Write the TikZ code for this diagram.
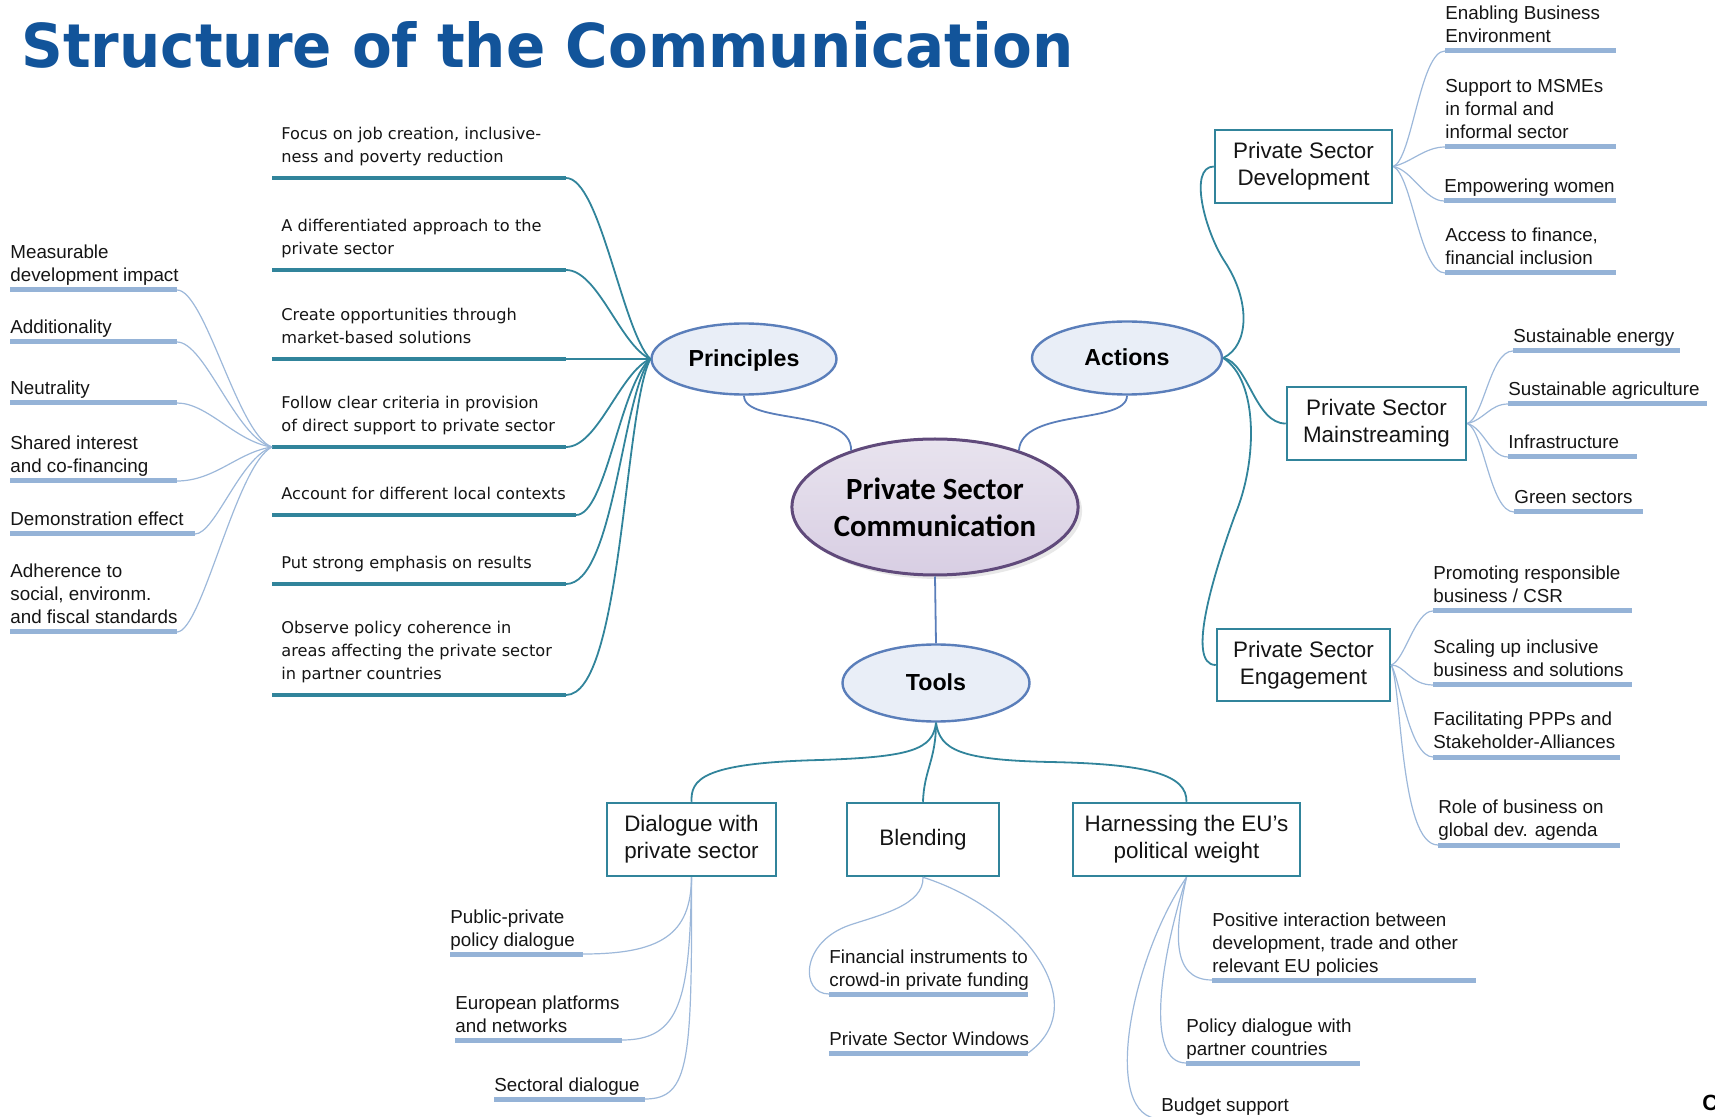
\documentclass[tikz,border=0pt]{standalone}
\usepackage{fontspec}
\setmainfont{Liberation Sans}
\newfontfamily\verd{DejaVu Sans}
\newfontfamily\calib{Carlito}
\newfontfamily\titlefont{DejaVu Sans}
\usetikzlibrary{shapes.geometric,shadows}
\definecolor{tealc}{HTML}{31849B}
\definecolor{lbar}{HTML}{95B3D7}
\definecolor{lline}{HTML}{9DB8DA}
\definecolor{ellf}{HTML}{E9EEF7}
\definecolor{ellb}{HTML}{5A7EBA}
\definecolor{centb}{HTML}{604A7B}
\definecolor{centt}{HTML}{E8E3EE}
\definecolor{centbot}{HTML}{D8CEE3}
\definecolor{titleblue}{HTML}{12549A}
\definecolor{txt}{HTML}{151515}
\begin{document}
\begin{tikzpicture}[x=0.5pt,y=-0.5pt,
  lvbar/.style={draw=lbar, line width=2.5pt},
  tbar/.style={draw=tealc, line width=1.75pt},
  thin/.style={draw=lline, line width=0.6pt},
  tcon/.style={draw=tealc, line width=0.9pt},
  bcon/.style={draw=ellb, line width=0.9pt},
  leaf/.style={anchor=south west, inner sep=0pt, align=left, text=txt, yshift=-1pt, font=\fontsize{9.4}{11.5}\selectfont},
  prtext/.style={anchor=south west, inner sep=0pt, align=left, text=txt, yshift=-1pt, font=\verd\fontsize{8.1}{11.5}\selectfont},
  box/.style={draw=tealc, line width=1.25pt, fill=white, align=center, text=txt, inner sep=0pt, font=\fontsize{11.2}{13.7}\selectfont},
  oval/.style={ellipse, draw=ellb, line width=1.2pt, fill=ellf, inner sep=0pt, text=black, text depth=0.5pt, font=\bfseries\fontsize{11.6}{14}\selectfont},
  cent/.style={ellipse, draw=centb, line width=1.5pt, top color=centt, bottom color=centbot, inner sep=0pt, align=center, text=black, font=\calib\bfseries\fontsize{15.4}{18.6}\selectfont, drop shadow={opacity=0.18, shadow xshift=2pt, shadow yshift=-2pt}}
]
\useasboundingbox (0,0) rectangle (1715,1117);

% title
\node[anchor=base west, inner sep=0pt, text=titleblue] (title) at (21,68) {\resizebox{526pt}{23pt}{\titlefont\bfseries Structure of the Communication}};

% main nodes
\node[oval, minimum width=92.5pt, minimum height=35.5pt] (prin) at (744,359) {Principles};
\node[oval, minimum width=95pt, minimum height=36.5pt] (act) at (1127,358) {Actions};
\node[oval, minimum width=93.5pt, minimum height=38.5pt] (tools) at (936,683) {Tools};
\node[cent, minimum width=137.5pt, minimum height=68pt] (center) at (935,507) {Private Sector\\Communication};

\draw[bcon] (prin.south) .. controls (744,425) and (852,408) .. (center.146);
\draw[bcon] (act.south) .. controls (1127,425) and (1022,408) .. (center.34);
\draw[bcon] (center.south) -- (tools.north);

% boxes
\node[box, minimum width=88.5pt, minimum height=36.5pt] (psd) at (1303.5,166.5) {Private Sector\\Development};
\node[box, minimum width=89.5pt, minimum height=36.5pt] (psm) at (1376.5,423.5) {Private Sector\\Mainstreaming};
\node[box, minimum width=86.5pt, minimum height=36pt] (pse) at (1303.5,665) {Private Sector\\Engagement};
\node[box, minimum width=84.5pt, minimum height=36.5pt] (dia) at (691.5,839.5) {Dialogue with\\private sector};
\node[box, minimum width=76pt, minimum height=36.5pt] (ble) at (923,839.5) {Blending};
\node[box, minimum width=113.5pt, minimum height=36.5pt] (har) at (1186.5,839.5) {Harnessing the EU’s\\political weight};

% actions connectors
\draw[tcon] (act.east) .. controls (1250,345) and (1250,300) .. (1225,262) .. controls (1205,232) and (1188,167) .. (psd.west);
\draw[tcon] (act.east) .. controls (1248,362) and (1255,424) .. (psm.west);
\draw[tcon] (act.east) .. controls (1258,380) and (1258,460) .. (1235,515) .. controls (1215,570) and (1185,665) .. (pse.west);

% tools connectors
\draw[tcon] (tools.south) .. controls (933,750) and (910,757) .. (820,760) .. controls (700,763) and (691,780) .. (dia.north);
\draw[tcon] (tools.south) .. controls (936,760) and (924,770) .. (ble.north);
\draw[tcon] (tools.south) .. controls (940,750) and (960,760) .. (1050,762) .. controls (1150,764) and (1187,775) .. (har.north);

% principles items
\coordinate (p1a) at (272,178); \coordinate (p1b) at (566,178);
\coordinate (p2a) at (272,270); \coordinate (p2b) at (566,270);
\coordinate (p3a) at (272,359); \coordinate (p3b) at (566,359);
\coordinate (p4a) at (272,447); \coordinate (p4b) at (566,447);
\coordinate (p5a) at (272,515); \coordinate (p5b) at (576,515);
\coordinate (p6a) at (272,584); \coordinate (p6b) at (566,584);
\coordinate (p7a) at (272,695); \coordinate (p7b) at (566,695);
\node[prtext] (p1) at (281,168) {Focus on job creation, inclusive-\\ness and poverty reduction\strut};
\node[prtext] (p2) at (281,260) {A differentiated approach to the\\private sector\strut};
\node[prtext] (p3) at (281,349) {Create opportunities through\\market-based solutions\strut};
\node[prtext] (p4) at (281,437) {Follow clear criteria in provision\\of direct support to private sector\strut};
\node[prtext] (p5) at (281,505) {Account for different local contexts\strut};
\node[prtext] (p6) at (281,574) {Put strong emphasis on results\strut};
\node[prtext] (p7) at (281,685) {Observe policy coherence in\\areas affecting the private sector\\in partner countries\strut};
\foreach \i in {1,...,7} {\draw[tbar] (p\i a) -- (p\i b);}
\draw[tcon] (p1b) .. controls (600,178) and (622,330) .. (prin.west);
\draw[tcon] (p2b) .. controls (598,270) and (620,345) .. (prin.west);
\draw[tcon] (p3b) -- (prin.west);
\draw[tcon] (p4b) .. controls (598,447) and (620,372) .. (prin.west);
\draw[tcon] (p5b) .. controls (606,515) and (620,385) .. (prin.west);
\draw[tcon] (p6b) .. controls (614,584) and (622,395) .. (prin.west);
\draw[tcon] (p7b) .. controls (622,695) and (624,410) .. (prin.west);

% criteria leaves (left)
\coordinate (c1b) at (177,290); \coordinate (c1a) at (10,290);
\coordinate (c2b) at (177,342); \coordinate (c2a) at (10,342);
\coordinate (c3b) at (177,403); \coordinate (c3a) at (10,403);
\coordinate (c4b) at (177,481); \coordinate (c4a) at (10,481);
\coordinate (c5b) at (195,534); \coordinate (c5a) at (10,534);
\coordinate (c6b) at (177,632); \coordinate (c6a) at (10,632);
\node[leaf] (c1) at (10,287) {Measurable\\development impact\strut};
\node[leaf] (c2) at (10,339) {Additionality\strut};
\node[leaf] (c3) at (10,400) {Neutrality\strut};
\node[leaf] (c4) at (10,478) {Shared interest\\and co-financing\strut};
\node[leaf] (c5) at (10,531) {Demonstration effect\strut};
\node[leaf] (c6) at (10,629) {Adherence to\\social, environm.\\and fiscal standards\strut};
\foreach \i in {1,...,6} {\draw[lvbar] (c\i a) -- (c\i b);}
\draw[thin] (c1b) .. controls (205,290) and (238,435) .. (p4a);
\draw[thin] (c2b) .. controls (205,342) and (236,438) .. (p4a);
\draw[thin] (c3b) .. controls (208,403) and (236,442) .. (p4a);
\draw[thin] (c4b) .. controls (215,481) and (238,452) .. (p4a);
\draw[thin] (c5b) .. controls (215,534) and (240,458) .. (p4a);
\draw[thin] (c6b) .. controls (202,632) and (236,465) .. (p4a);

% PSD leaves
\coordinate (d1a) at (1445,51);  \coordinate (d1b) at (1616,51);
\coordinate (d2a) at (1445,147); \coordinate (d2b) at (1616,147);
\coordinate (d3a) at (1444,201); \coordinate (d3b) at (1616,201);
\coordinate (d4a) at (1445,273); \coordinate (d4b) at (1616,273);
\node[leaf] (d1) at (1445,48) {Enabling Business\\Environment\strut};
\node[leaf] (d2) at (1445,144) {Support to MSMEs\\in formal and\\informal sector\strut};
\node[leaf] (d3) at (1444,198) {Empowering women\strut};
\node[leaf] (d4) at (1445,270) {Access to finance,\\financial inclusion\strut};
\foreach \i in {1,...,4} {\draw[lvbar] (d\i a) -- (d\i b);}
\draw[thin] (psd.east) .. controls (1412,160) and (1420,51) .. (d1a);
\draw[thin] (psd.east) .. controls (1412,162) and (1425,147) .. (d2a);
\draw[thin] (psd.east) .. controls (1412,170) and (1425,201) .. (d3a);
\draw[thin] (psd.east) .. controls (1412,175) and (1420,273) .. (d4a);

% PSM leaves
\coordinate (m1a) at (1513,351); \coordinate (m1b) at (1680,351);
\coordinate (m2a) at (1508,404); \coordinate (m2b) at (1707,404);
\coordinate (m3a) at (1508,457); \coordinate (m3b) at (1637,457);
\coordinate (m4a) at (1514,512); \coordinate (m4b) at (1643,512);
\node[leaf] (m1) at (1513,348) {Sustainable energy\strut};
\node[leaf] (m2) at (1508,401) {Sustainable agriculture\strut};
\node[leaf] (m3) at (1508,454) {Infrastructure\strut};
\node[leaf] (m4) at (1514,509) {Green sectors\strut};
\foreach \i in {1,...,4} {\draw[lvbar] (m\i a) -- (m\i b);}
\draw[thin] (psm.east) .. controls (1484,418) and (1490,351) .. (m1a);
\draw[thin] (psm.east) .. controls (1484,420) and (1490,404) .. (m2a);
\draw[thin] (psm.east) .. controls (1484,428) and (1490,457) .. (m3a);
\draw[thin] (psm.east) .. controls (1484,430) and (1490,512) .. (m4a);

% PSE leaves
\coordinate (e1a) at (1433,611); \coordinate (e1b) at (1632,611);
\coordinate (e2a) at (1433,685); \coordinate (e2b) at (1632,685);
\coordinate (e3a) at (1433,757); \coordinate (e3b) at (1620,757);
\coordinate (e4a) at (1438,845); \coordinate (e4b) at (1620,845);
\node[leaf] (e1) at (1433,608) {Promoting responsible\\business / CSR\strut};
\node[leaf] (e2) at (1433,682) {Scaling up inclusive\\business and solutions\strut};
\node[leaf] (e3) at (1433,754) {Facilitating PPPs and\\Stakeholder-Alliances\strut};
\node[leaf] (e4) at (1438,842) {Role of business on\\global dev. agenda\strut};
\foreach \i in {1,...,4} {\draw[lvbar] (e\i a) -- (e\i b);}
\draw[thin] (pse.east) .. controls (1405,660) and (1415,611) .. (e1a);
\draw[thin] (pse.east) .. controls (1405,665) and (1410,685) .. (e2a);
\draw[thin] (pse.east) .. controls (1400,680) and (1410,757) .. (e3a);
\draw[thin] (pse.east) .. controls (1402,690) and (1400,845) .. (e4a);

% Dialogue leaves
\coordinate (g1a) at (450,954);  \coordinate (g1b) at (583,954);
\coordinate (g2a) at (455,1040); \coordinate (g2b) at (622,1040);
\coordinate (g3a) at (494,1099); \coordinate (g3b) at (645,1099);
\node[leaf] (g1) at (450,952) {Public-private\\policy dialogue\strut};
\node[leaf] (g2) at (455,1038) {European platforms\\and networks\strut};
\node[leaf] (g3) at (494,1097) {Sectoral dialogue\strut};
\foreach \i in {1,...,3} {\draw[lvbar] (g\i a) -- (g\i b);}
\draw[thin] (dia.south) .. controls (691,935) and (660,954) .. (g1b);
\draw[thin] (dia.south) .. controls (690,1000) and (680,1040) .. (g2b);
\draw[thin] (dia.south) .. controls (692,1060) and (690,1099) .. (g3b);

% Blending leaves
\coordinate (b1a) at (829,994);  \coordinate (b1b) at (1028,994);
\coordinate (b2a) at (829,1053); \coordinate (b2b) at (1028,1053);
\node[leaf] (b1) at (829,992) {Financial instruments to\\crowd-in private funding\strut};
\node[leaf] (b2) at (829,1051) {Private Sector Windows\strut};
\foreach \i in {1,2} {\draw[lvbar] (b\i a) -- (b\i b);}
\draw[thin] (ble.south) .. controls (924,905) and (880,915) .. (850,925) .. controls (800,942) and (800,994) .. (b1a);
\draw[thin] (ble.south) .. controls (1025,910) and (1095,1005) .. (b2b);

% Harnessing leaves
\coordinate (h1a) at (1212,980);  \coordinate (h1b) at (1476,980);
\coordinate (h2a) at (1186,1063); \coordinate (h2b) at (1360,1063);
\coordinate (h3a) at (1161,1119); \coordinate (h3b) at (1290,1119);
\node[leaf] (h1) at (1212,978) {Positive interaction between\\development, trade and other\\relevant EU policies\strut};
\node[leaf] (h2) at (1186,1061) {Policy dialogue with\\partner countries\strut};
\node[leaf] (h3) at (1161,1117) {Budget support\strut};
\foreach \i in {1,2,3} {\draw[lvbar] (h\i a) -- (h\i b);}
\draw[thin] (har.south) .. controls (1175,930) and (1170,980) .. (h1a);
\draw[thin] (har.south) .. controls (1160,960) and (1145,1063) .. (h2a);
\draw[thin] (har.south) .. controls (1130,960) and (1100,1119) .. (h3a);

% cut-off letter at the corner
\node[anchor=base west, inner sep=0pt, font=\bfseries\fontsize{11}{13}\selectfont] (corner) at (1702,1110) {C};
\end{tikzpicture}
\end{document}
